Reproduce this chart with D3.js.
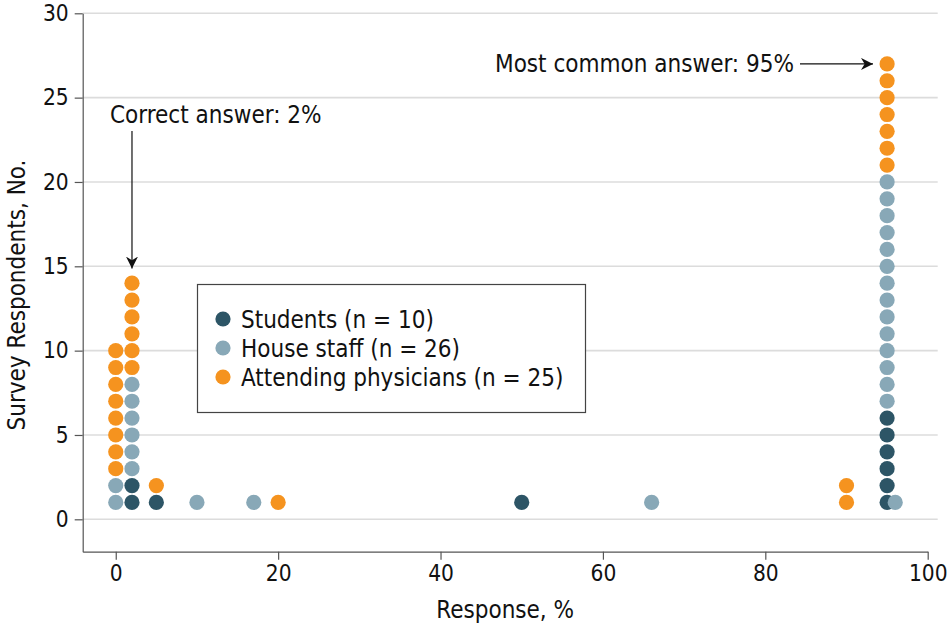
<!DOCTYPE html>
<html>
<head>
<meta charset="utf-8">
<script src="https://cdn.jsdelivr.net/npm/d3@7"></script>
<style>
  body { margin: 0; background: #fff; }
  svg { display: block; }
  text { font-family: "DejaVu Sans Condensed", "DejaVu Sans", sans-serif; fill: #111; }
</style>
</head>
<body>
<div id="chart"></div>
<script>
// responses (%) and how many respondents gave each one, per group
const groups = ["Students (n = 10)", "House staff (n = 26)", "Attending physicians (n = 25)"];
const groupColors = ["#2d5566", "#88a8b7", "#f5931f"];

const studentResponses = [2, 5, 50, 95];
const studentCounts = [2, 1, 1, 6];

const houseStaffResponses = [0, 2, 10, 17, 66, 95, 96];
const houseStaffCounts = [2, 6, 1, 1, 1, 14, 1];

const attendingResponses = [0, 2, 5, 20, 90, 95];
const attendingCounts = [8, 6, 1, 1, 2, 7];

const xTicks = [0, 20, 40, 60, 80, 100];
const yTicks = [0, 5, 10, 15, 20, 25, 30];

const correctAnswer = 2;
const commonAnswer = 95;

const width = 949;
const height = 625;

const svg = d3.select("#chart")
  .append("svg")
  .attr("width", width)
  .attr("height", height);

const x = d3.scaleLinear().domain([-4.07, 100]).range([82.7, 927.7]);
const y = d3.scaleLinear().domain([-1.92, 30]).range([551.7, 13.3]);
const r = 7.6;

// stack dots per response value, students first, then house staff, then attendings
const series = [
  [studentResponses, studentCounts],
  [houseStaffResponses, houseStaffCounts],
  [attendingResponses, attendingCounts]
];
const stackHeight = {};
const dots = [];
series.forEach(([resp, counts], g) => {
  resp.forEach((v, i) => {
    for (let k = 0; k < counts[i]; k++) {
      stackHeight[v] = (stackHeight[v] || 0) + 1;
      dots.push({ response: v, count: stackHeight[v], group: g });
    }
  });
});

// gridlines
svg.append("g")
  .selectAll("line")
  .data(yTicks)
  .join("line")
  .attr("x1", x.range()[0])
  .attr("x2", 937.7)
  .attr("y1", d => y(d))
  .attr("y2", d => y(d))
  .attr("stroke", "#dcdcdc")
  .attr("stroke-width", 1.6);

// axes
const xAxis = svg.append("g")
  .attr("transform", `translate(0,${y.range()[0]})`)
  .call(d3.axisBottom(x).tickValues(xTicks).tickSize(8).tickSizeOuter(0).tickPadding(5));
const yAxis = svg.append("g")
  .attr("transform", `translate(${x.range()[0]},0)`)
  .call(d3.axisLeft(y).tickValues(yTicks).tickSize(8).tickSizeOuter(0).tickPadding(6));

[xAxis, yAxis].forEach(a => {
  a.select(".domain").attr("stroke", "#555").attr("stroke-width", 1.2);
  a.selectAll(".tick line").attr("stroke", "#555").attr("stroke-width", 1.2);
  a.selectAll(".tick text")
    .style("font-family", "'DejaVu Sans Condensed', 'DejaVu Sans', sans-serif")
    .style("font-size", "22.5px")
    .attr("fill", "#111");
});

svg.append("text")
  .attr("x", (x.range()[0] + x.range()[1]) / 2)
  .attr("y", 618)
  .attr("text-anchor", "middle")
  .style("font-size", "24px")
  .text("Response, %");

svg.append("text")
  .attr("transform", "translate(24.5,295) rotate(-90)")
  .attr("text-anchor", "middle")
  .style("font-size", "24px")
  .text("Survey Respondents, No.");

// dots
svg.append("g")
  .selectAll("circle")
  .data(dots)
  .join("circle")
  .attr("cx", d => x(d.response))
  .attr("cy", d => y(d.count))
  .attr("r", r)
  .attr("fill", d => groupColors[d.group]);

// arrow marker
svg.append("defs").append("marker")
  .attr("id", "arrowhead")
  .attr("viewBox", "0 -5 10 10")
  .attr("refX", 10)
  .attr("refY", 0)
  .attr("markerWidth", 12)
  .attr("markerHeight", 12)
  .attr("markerUnits", "userSpaceOnUse")
  .attr("orient", "auto")
  .append("path")
  .attr("d", "M0,-5L10,0L0,5L3,0Z")
  .attr("fill", "#111");

// correct answer annotation
const correctTop = y(stackHeight[correctAnswer]);
svg.append("text")
  .attr("x", 110)
  .attr("y", 123)
  .style("font-size", "24px")
  .text("Correct answer: 2%");
svg.append("line")
  .attr("x1", x(correctAnswer))
  .attr("x2", x(correctAnswer))
  .attr("y1", 131)
  .attr("y2", correctTop - r - 7)
  .attr("stroke", "#111")
  .attr("stroke-width", 1.2)
  .attr("marker-end", "url(#arrowhead)");

// most common answer annotation
const commonTop = y(stackHeight[commonAnswer]);
svg.append("text")
  .attr("x", 794)
  .attr("y", commonTop + 8.5)
  .attr("text-anchor", "end")
  .style("font-size", "24px")
  .text("Most common answer: 95%");
svg.append("line")
  .attr("x1", 800)
  .attr("x2", x(commonAnswer) - r - 6.5)
  .attr("y1", commonTop)
  .attr("y2", commonTop)
  .attr("stroke", "#111")
  .attr("stroke-width", 1.2)
  .attr("marker-end", "url(#arrowhead)");

// legend
const legend = svg.append("g");
legend.append("rect")
  .attr("x", 197.5)
  .attr("y", 284.5)
  .attr("width", 388)
  .attr("height", 128)
  .attr("fill", "#fff")
  .attr("stroke", "#444")
  .attr("stroke-width", 1.2);

const rows = legend.selectAll("g.row")
  .data(groups)
  .join("g")
  .attr("class", "row")
  .attr("transform", (d, i) => `translate(223,${319 + i * 29})`);
rows.append("circle")
  .attr("r", r)
  .attr("fill", (d, i) => groupColors[i]);
rows.append("text")
  .attr("x", 18)
  .attr("y", 8.5)
  .style("font-size", "24px")
  .text(d => d);
</script>
</body>
</html>
